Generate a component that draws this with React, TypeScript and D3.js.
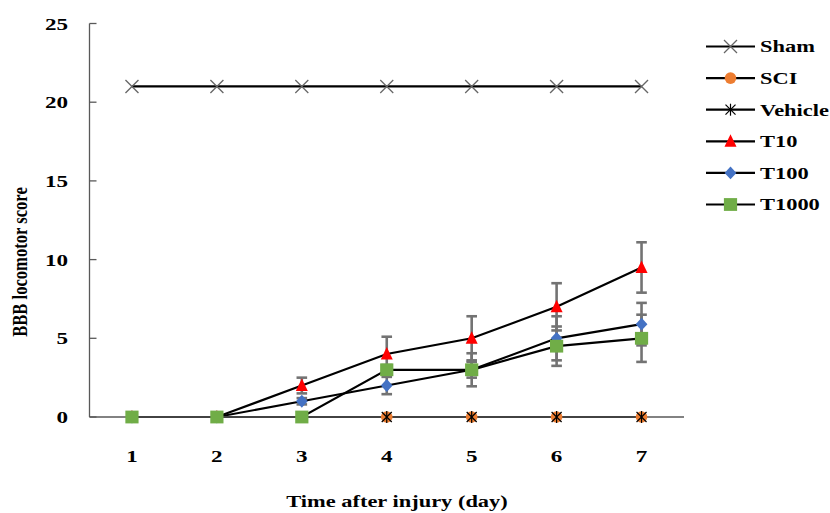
import React from "react";
import * as d3 from "d3";

const days = [1, 2, 3, 4, 5, 6, 7];
const yTicks = [0, 5, 10, 15, 20, 25];
const seriesNames = ["Sham", "SCI", "Vehicle", "T10", "T100", "T1000"];

const shamValues = [21, 21, 21, 21, 21, 21, 21];
const sciValues = [0, 0, 0, 0, 0, 0, 0];
const vehicleValues = [0, 0, 0, 0, 0, 0, 0];
const t10Values = [0, 0, 2, 4, 5, 7, 9.5];
const t10Err = [0, 0, 0.5, 1.1, 1.4, 1.5, 1.6];
const t100Values = [0, 0, 1, 2, 3, 5, 5.9];
const t100Err = [0, 0, 0.2, 0.55, 0.5, 1.4, 1.35];
const t1000Values = [0, 0, 0, 3, 3, 4.5, 5];
const t1000Err = [0, 0, 0, 0.3, 1.05, 1.25, 1.5];

const W = 830;
const H = 513;
const FONT = "'Liberation Serif', 'Times New Roman', serif";
const SX = 1.32;

type Marker = "x" | "circle" | "star" | "triangle" | "diamond" | "square";

const series: { name: string; values: number[]; err: number[] | null; marker: Marker; color: string }[] = [
  { name: seriesNames[0], values: shamValues, err: null, marker: "x", color: "#666666" },
  { name: seriesNames[1], values: sciValues, err: null, marker: "circle", color: "#ED7D31" },
  { name: seriesNames[2], values: vehicleValues, err: null, marker: "star", color: "#000000" },
  { name: seriesNames[3], values: t10Values, err: t10Err, marker: "triangle", color: "#FF0000" },
  { name: seriesNames[4], values: t100Values, err: t100Err, marker: "diamond", color: "#4472C4" },
  { name: seriesNames[5], values: t1000Values, err: t1000Err, marker: "square", color: "#70AD47" },
];

function MarkerShape({ type, cx, cy, color }: { type: Marker; cx: number; cy: number; color: string }) {
  const t = `translate(${cx},${cy})`;
  switch (type) {
    case "x":
      return (
        <g transform={t} stroke={color} strokeWidth={1.3}>
          <line x1={-6.5} y1={-6.5} x2={6.5} y2={6.5} />
          <line x1={-6.5} y1={6.5} x2={6.5} y2={-6.5} />
        </g>
      );
    case "circle":
      return <circle transform={t} r={5.8} fill={color} />;
    case "star":
      return (
        <g transform={t} stroke={color} strokeWidth={1.2}>
          <line x1={-5} y1={-5} x2={5} y2={5} />
          <line x1={-5} y1={5} x2={5} y2={-5} />
          <line x1={0} y1={-6} x2={0} y2={6} />
        </g>
      );
    case "triangle":
      return <path transform={t} d="M0,-7 L6,5.5 L-6,5.5 Z" fill={color} />;
    case "diamond":
      return <path transform={t} d="M0,-6.4 L5.9,0 L0,6.4 L-5.9,0 Z" fill={color} />;
    case "square":
      return <rect transform={t} x={-6.6} y={-6.4} width={13.2} height={12.8} fill={color} />;
  }
}

export default function App() {
  const x = d3.scalePoint<number>().domain(days).range([89.5, 684]).padding(0.5);
  const y = d3.scaleLinear().domain([0, 25]).range([417, 23.5]);
  const line = d3
    .line<number>()
    .x((_, i) => x(days[i]) as number)
    .y((v) => y(v));

  const legendY = (i: number) => 46.5 + i * 31.6;

  return (
    <svg
      width={W}
      height={H}
      style={{ position: "absolute", left: 0, top: 0, background: "#fff" }}
      fontFamily={FONT}
      fontWeight="bold"
    >
      <rect width={W} height={H} fill="#fff" />
      {/* y axis */}
      <line x1={89.5} x2={89.5} y1={y(25)} y2={y(0)} stroke="#595959" strokeWidth={1.3} />
      {yTicks.map((t) => (
        <g key={t}>
          <line x1={89.5} x2={96.5} y1={y(t)} y2={y(t)} stroke="#595959" strokeWidth={1.3} />
          <text
            transform={`translate(68,${y(t)}) scale(${SX},1)`}
            textAnchor="end"
            dy="0.35em"
            fontSize={17.5}
            fill="#000"
          >
            {t}
          </text>
        </g>
      ))}
      {/* series lines */}
      {series.map((s) => (
        <path key={s.name} d={line(s.values) || ""} fill="none" stroke="#000" strokeWidth={2.2} />
      ))}
      {/* x axis */}
      <line x1={89.5} x2={684} y1={y(0)} y2={y(0)} stroke="#595959" strokeWidth={1.6} />
      {days.map((d) => (
        <text
          key={d}
          transform={`translate(${x(d)},461.5) scale(${SX},1)`}
          textAnchor="middle"
          fontSize={17.5}
          fill="#000"
        >
          {d}
        </text>
      ))}
      {/* error bars */}
      {series.map((s) =>
        s.err
          ? s.values.map((v, i) => {
              const e = s.err![i];
              if (!e) return null;
              const cx = x(days[i]) as number;
              return (
                <g key={s.name + i} stroke="#737373" strokeWidth={2.6}>
                  <line x1={cx} x2={cx} y1={y(v + e)} y2={y(v - e)} />
                  <line x1={cx - 5.3} x2={cx + 5.3} y1={y(v + e)} y2={y(v + e)} />
                  <line x1={cx - 5.3} x2={cx + 5.3} y1={y(v - e)} y2={y(v - e)} />
                </g>
              );
            })
          : null
      )}
      {/* markers */}
      {series.map((s) =>
        s.values.map((v, i) => (
          <MarkerShape key={s.name + "m" + i} type={s.marker} cx={x(days[i]) as number} cy={y(v)} color={s.color} />
        ))
      )}
      {/* axis titles */}
      <text
        transform={`translate(397,507) scale(${SX},1)`}
        textAnchor="middle"
        fontSize={17}
        fill="#000"
      >
        Time after injury (day)
      </text>
      <text
        transform={`translate(19,262) rotate(-90) scale(1,${SX})`}
        textAnchor="middle"
        dy="0.35em"
        fontSize={16.6}
        fill="#000"
      >
        BBB locomotor score
      </text>
      {/* legend */}
      {series.map((s, i) => (
        <g key={"lg" + s.name}>
          <line x1={706} x2={755} y1={legendY(i)} y2={legendY(i)} stroke="#000" strokeWidth={2.2} />
          <MarkerShape type={s.marker} cx={730.5} cy={legendY(i)} color={s.color} />
          <text
            transform={`translate(760,${legendY(i)}) scale(${SX},1)`}
            dy="0.35em"
            fontSize={17}
            fill="#000"
          >
            {s.name}
          </text>
        </g>
      ))}
    </svg>
  );
}
